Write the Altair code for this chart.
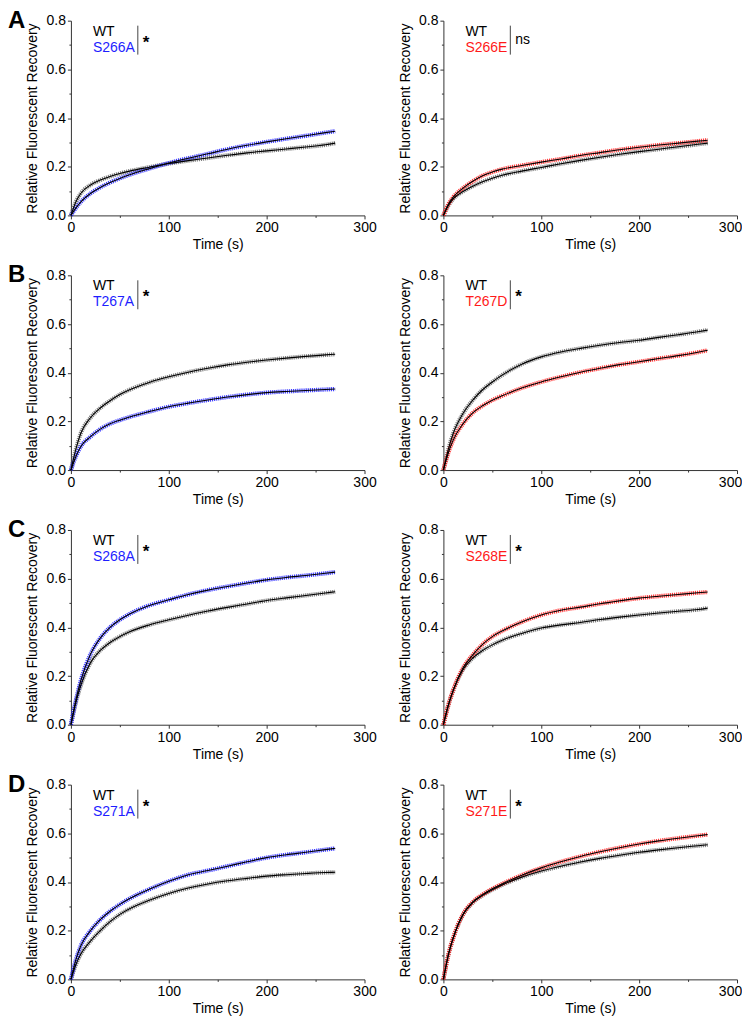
import altair as alt
import pandas as pd

# ---------------- data ----------------
time_s = [0, 5, 10, 20, 30, 40, 50, 60, 80, 100, 120, 140, 160, 180, 200, 220, 240, 260, 270]

wt_s266a = [0, 0.055, 0.09, 0.125, 0.145, 0.16, 0.172, 0.182, 0.198, 0.213, 0.225, 0.236, 0.247, 0.257, 0.265, 0.273, 0.281, 0.29, 0.297]
mut_s266a = [0, 0.03, 0.055, 0.09, 0.115, 0.135, 0.152, 0.167, 0.192, 0.215, 0.235, 0.253, 0.272, 0.288, 0.302, 0.315, 0.327, 0.34, 0.346]

wt_s266e = [0, 0.04, 0.068, 0.098, 0.12, 0.138, 0.153, 0.165, 0.182, 0.197, 0.212, 0.226, 0.239, 0.251, 0.262, 0.272, 0.282, 0.292, 0.297]
mut_s266e = [0, 0.045, 0.075, 0.112, 0.14, 0.163, 0.178, 0.19, 0.205, 0.219, 0.232, 0.246, 0.258, 0.27, 0.28, 0.289, 0.297, 0.305, 0.309]

wt_t267a = [0, 0.085, 0.15, 0.215, 0.255, 0.285, 0.31, 0.33, 0.36, 0.383, 0.402, 0.418, 0.432, 0.443, 0.452, 0.46, 0.467, 0.473, 0.476]
mut_t267a = [0, 0.055, 0.096, 0.137, 0.168, 0.19, 0.205, 0.218, 0.24, 0.26, 0.275, 0.288, 0.3, 0.31, 0.318, 0.323, 0.327, 0.331, 0.333]

wt_t267d = [0, 0.085, 0.15, 0.232, 0.287, 0.33, 0.362, 0.39, 0.435, 0.465, 0.485, 0.5, 0.513, 0.524, 0.533, 0.545, 0.556, 0.568, 0.575]
mut_t267d = [0, 0.07, 0.123, 0.19, 0.235, 0.264, 0.287, 0.305, 0.337, 0.362, 0.383, 0.402, 0.418, 0.433, 0.445, 0.458, 0.47, 0.484, 0.492]

wt_s268a = [0, 0.09, 0.16, 0.255, 0.305, 0.338, 0.362, 0.382, 0.41, 0.431, 0.45, 0.467, 0.482, 0.496, 0.51, 0.521, 0.531, 0.541, 0.546]
mut_s268a = [0, 0.1, 0.18, 0.29, 0.356, 0.4, 0.431, 0.455, 0.49, 0.513, 0.535, 0.553, 0.568, 0.582, 0.595, 0.605, 0.613, 0.622, 0.627]

wt_s268e = [0, 0.08, 0.14, 0.226, 0.274, 0.305, 0.328, 0.347, 0.375, 0.397, 0.41, 0.42, 0.432, 0.442, 0.451, 0.459, 0.466, 0.473, 0.479]
mut_s268e = [0, 0.08, 0.142, 0.233, 0.287, 0.33, 0.362, 0.385, 0.422, 0.451, 0.47, 0.483, 0.497, 0.509, 0.52, 0.528, 0.535, 0.542, 0.545]

wt_s271a = [0, 0.06, 0.103, 0.157, 0.2, 0.237, 0.267, 0.29, 0.325, 0.353, 0.375, 0.392, 0.405, 0.415, 0.424, 0.43, 0.435, 0.439, 0.44]
mut_s271a = [0, 0.08, 0.137, 0.2, 0.245, 0.28, 0.308, 0.332, 0.37, 0.403, 0.43, 0.447, 0.465, 0.483, 0.5, 0.512, 0.522, 0.533, 0.538]

wt_s271e = [0, 0.1, 0.17, 0.265, 0.315, 0.345, 0.368, 0.388, 0.42, 0.445, 0.465, 0.482, 0.497, 0.51, 0.522, 0.532, 0.541, 0.549, 0.553]
mut_s271e = [0, 0.1, 0.17, 0.267, 0.318, 0.348, 0.372, 0.392, 0.428, 0.458, 0.483, 0.505, 0.524, 0.541, 0.556, 0.569, 0.58, 0.59, 0.595]

row_letters = ["A", "B", "C", "D"]
mutant_names = ["S266A", "S266E", "T267A", "T267D", "S268A", "S268E", "S271A", "S271E"]
significance = ["*", "ns", "*", "*", "*", "*", "*", "*"]
wt_series = [wt_s266a, wt_s266e, wt_t267a, wt_t267d, wt_s268a, wt_s268e, wt_s271a, wt_s271e]
mut_series = [mut_s266a, mut_s266e, mut_t267a, mut_t267d, mut_s268a, mut_s268e, mut_s271a, mut_s271e]

BLUE = "#1e1eff"
RED = "#ff1a1a"
FONT = "Liberation Sans"

W, H = 294, 195


def x_axis(right_col):
    kw = {}
    if right_col:
        # keep the last label inside the page so nothing overflows the window
        kw["labelOffset"] = {"condition": {"test": "datum.value == 300", "value": -7}, "value": 0}
    return alt.Axis(
        values=[0, 50, 100, 150, 200, 250, 300],
        labelExpr="datum.value % 100 == 0 ? datum.value : ''",
        tickSize={"condition": {"test": "datum.value % 100 != 0", "value": 2}, "value": 3.5},
        grid=False, labelFlush=False, labelOverlap=False, labelBound=False,
        title="Time (s)", labelPadding=2, titlePadding=3, **kw,
    )


y_axis = alt.Axis(
    values=[0, 0.1, 0.2, 0.3, 0.4, 0.5, 0.6, 0.7, 0.8],
    labelExpr="round(datum.value * 10) % 2 == 0 ? format(datum.value, '.1f') : ''",
    tickSize={"condition": {"test": "round(datum.value * 10) % 2 == 1", "value": 2}, "value": 3.5},
    grid=False, labelFlush=False, labelOverlap=False, labelBound=False,
    title="Relative Fluorescent Recovery", labelPadding=2, titlePadding=6,
)


def text_layer(txt, x, y, color="black", size=14, weight="normal", align="left", baseline="middle"):
    return alt.Chart(pd.DataFrame({"k": [txt]})).mark_text(
        align=align, baseline=baseline, font=FONT, fontSize=size, fontWeight=weight, color=color
    ).encode(x=alt.value(x), y=alt.value(y), text="k:N")


def panel(i):
    mut = mutant_names[i]
    col = BLUE if mut.endswith("A") else RED
    wt_df = pd.DataFrame({"t": time_s, "v": wt_series[i]})
    mut_df = pd.DataFrame({"t": time_s, "v": mut_series[i]})
    x = alt.X("t:Q", scale=alt.Scale(domain=[0, 300], nice=False), axis=x_axis(i % 2 == 1))
    y = alt.Y("v:Q", scale=alt.Scale(domain=[0, 0.8], nice=False), axis=y_axis)
    wt_band = alt.Chart(wt_df).mark_line(
        strokeWidth=4.2, color="#555555", opacity=0.75, strokeDash=[1.2, 0.9], interpolate="monotone"
    ).encode(x=x, y=y)
    mut_band = alt.Chart(mut_df).mark_line(
        strokeWidth=4.2, color=col, opacity=0.85, strokeDash=[1.2, 0.9], interpolate="monotone"
    ).encode(x=x, y=y)
    wt_fit = alt.Chart(wt_df).mark_line(strokeWidth=1.1, color="black", interpolate="monotone").encode(x=x, y=y)
    mut_fit = alt.Chart(mut_df).mark_line(strokeWidth=1.1, color="black", interpolate="monotone").encode(x=x, y=y)
    bar = alt.Chart(pd.DataFrame({"k": [0]})).mark_rule(color="#444", strokeWidth=1).encode(
        x=alt.value(67), y=alt.value(5), y2=alt.value(34)
    )
    sig = significance[i]
    layers = [
        wt_band, mut_band, wt_fit, mut_fit,
        text_layer("WT", 22, 11),
        text_layer(mut, 22, 27, color=col),
        bar,
        text_layer(sig, 72, 22 if sig == "*" else 19,
                   size=17 if sig == "*" else 14,
                   weight="bold" if sig == "*" else "normal"),
    ]
    if i % 2 == 0:
        layers.append(text_layer(row_letters[i // 2], -63, -12, size=24, weight="bold", baseline="top"))
    return alt.layer(*layers).properties(width=W, height=H)


chart = alt.concat(
    *[panel(i) for i in range(8)], columns=2,
    spacing=alt.RowColnumber(row=60, column=79), bounds="flush",
).properties(padding=0).configure_view(stroke=None).configure_axis(
    labelFont=FONT, titleFont=FONT, labelFontSize=14, titleFontSize=14,
    labelColor="black", titleColor="black", titleFontWeight="normal",
    domainColor="#333", tickColor="#333", domainWidth=1, tickWidth=1,
)

chart.save("out.html", embed_options={"renderer": "svg", "actions": False})
